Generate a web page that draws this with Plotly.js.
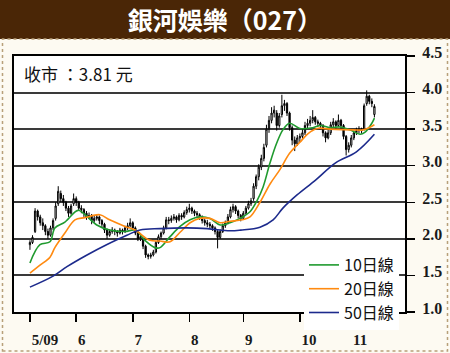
<!DOCTYPE html>
<html>
<head>
<meta charset="utf-8">
<script src="https://cdn.plot.ly/plotly-3.0.1.min.js"></script>
<style>html,body{margin:0;padding:0;background:#fdfaf2;}#chart{width:450px;height:353px;}</style>
</head>
<body>
<div id="chart"></div>
<script>
// trading-day index for each candle (May 4 2009 .. Nov 2009)
var dayIndex = [];
for (var i = 0; i < 135; i++) dayIndex.push(i);

var openP = [1.92,1.95,2.10,2.38,2.30,2.22,2.18,2.10,2.05,2.15,2.28,2.48,2.62,2.55,2.50,2.42,2.35,2.48,2.55,2.50,
2.42,2.40,2.35,2.30,2.32,2.25,2.28,2.30,2.25,2.20,2.12,2.05,2.10,2.12,2.10,2.08,2.12,2.10,2.15,2.18,
2.22,2.15,2.08,2.00,2.00,1.90,1.78,1.76,1.78,1.82,1.95,2.03,2.08,2.15,2.26,2.25,2.28,2.30,2.26,2.32,
2.30,2.36,2.40,2.42,2.38,2.35,2.33,2.30,2.25,2.22,2.20,2.18,2.15,2.10,2.02,2.10,2.18,2.22,2.30,2.40,
2.44,2.38,2.32,2.28,2.35,2.42,2.48,2.55,2.72,2.85,2.98,3.10,3.28,3.50,3.62,3.72,3.72,3.55,3.70,3.82,
3.85,3.72,3.52,3.35,3.30,3.38,3.40,3.45,3.55,3.58,3.62,3.66,3.60,3.58,3.55,3.45,3.38,3.45,3.56,3.60,
3.55,3.62,3.55,3.40,3.22,3.28,3.38,3.45,3.48,3.50,3.50,3.85,3.95,3.88,3.70];
var highP = [1.98,2.05,2.42,2.40,2.33,2.28,2.20,2.14,2.18,2.28,2.50,2.72,2.66,2.60,2.52,2.45,2.48,2.62,2.58,2.52,
2.46,2.42,2.38,2.36,2.34,2.32,2.34,2.32,2.27,2.22,2.14,2.13,2.16,2.14,2.12,2.15,2.14,2.18,2.22,2.28,
2.24,2.17,2.10,2.06,2.02,1.92,1.80,1.81,1.85,1.97,2.06,2.10,2.18,2.30,2.30,2.32,2.34,2.32,2.35,2.35,
2.39,2.44,2.48,2.44,2.40,2.38,2.35,2.32,2.28,2.26,2.23,2.20,2.17,2.12,2.13,2.21,2.25,2.34,2.44,2.48,
2.46,2.40,2.34,2.38,2.45,2.52,2.56,2.76,2.88,3.02,3.15,3.30,3.56,3.68,3.80,3.82,3.76,3.72,3.97,3.90,
3.87,3.74,3.55,3.40,3.42,3.44,3.50,3.60,3.64,3.68,3.76,3.68,3.63,3.60,3.57,3.47,3.50,3.60,3.65,3.62,
3.70,3.64,3.57,3.42,3.32,3.42,3.48,3.52,3.54,3.52,3.85,4.03,3.97,3.92,3.84];
var lowP = [1.85,1.93,2.08,2.25,2.18,2.12,2.05,2.00,2.03,2.12,2.25,2.45,2.50,2.45,2.38,2.30,2.33,2.45,2.45,2.38,
2.35,2.30,2.26,2.27,2.20,2.22,2.25,2.20,2.15,2.08,2.00,2.03,2.07,2.05,2.03,2.06,2.06,2.08,2.12,2.16,
2.12,2.05,1.97,1.97,1.86,1.74,1.72,1.73,1.76,1.80,1.93,2.00,2.06,2.13,2.20,2.22,2.25,2.22,2.24,2.26,
2.28,2.33,2.36,2.34,2.31,2.30,2.26,2.21,2.18,2.16,2.14,2.11,2.06,1.87,2.00,2.08,2.15,2.20,2.28,2.36,
2.34,2.28,2.24,2.26,2.33,2.40,2.45,2.52,2.68,2.80,2.94,3.06,3.25,3.45,3.58,3.66,3.48,3.52,3.66,3.75,
3.68,3.48,3.28,3.20,3.27,3.32,3.37,3.42,3.50,3.54,3.58,3.56,3.53,3.50,3.40,3.32,3.36,3.42,3.52,3.50,
3.53,3.50,3.36,3.14,3.18,3.25,3.35,3.42,3.44,3.44,3.48,3.82,3.84,3.80,3.66];
var closeP = [1.95,2.02,2.38,2.30,2.22,2.18,2.10,2.05,2.15,2.25,2.45,2.65,2.55,2.50,2.42,2.35,2.45,2.55,2.50,2.42,
2.40,2.35,2.30,2.32,2.25,2.28,2.30,2.25,2.20,2.12,2.05,2.10,2.12,2.10,2.08,2.12,2.10,2.15,2.18,2.22,
2.15,2.08,2.00,2.03,1.90,1.78,1.76,1.78,1.82,1.95,2.03,2.08,2.15,2.26,2.25,2.28,2.30,2.26,2.32,2.30,
2.36,2.40,2.42,2.38,2.35,2.33,2.30,2.25,2.22,2.20,2.18,2.15,2.10,2.02,2.10,2.18,2.22,2.30,2.40,2.44,
2.38,2.32,2.28,2.35,2.42,2.48,2.52,2.72,2.85,2.98,3.10,3.25,3.50,3.62,3.72,3.76,3.55,3.68,3.82,3.85,
3.72,3.52,3.35,3.30,3.38,3.40,3.45,3.55,3.58,3.62,3.66,3.60,3.58,3.55,3.45,3.38,3.45,3.56,3.60,3.55,
3.62,3.55,3.40,3.22,3.28,3.38,3.45,3.48,3.50,3.48,3.82,3.95,3.88,3.85,3.81];

// moving-average lines at sample days
var ma10Day = [0,3.9,7.8,9.7,13.6,18.7,21.4,26,31,37,41,44.7,48.6,50.6,54.5,58.4,62.3,66,70,74,77.8,81.7,85.6,88.3,90.7,93.4,96,98.4,101,105,110,113,116.7,120.6,124.5,128.4,130.4,133,134];
var ma10Val = [1.67,1.92,1.96,2.15,2.23,2.39,2.33,2.19,2.12,2.10,2.12,1.98,1.88,1.88,2.03,2.17,2.26,2.30,2.28,2.19,2.22,2.28,2.37,2.52,2.71,3.04,3.31,3.49,3.58,3.51,3.52,3.55,3.52,3.53,3.49,3.43,3.46,3.58,3.65];
var ma20Day = [0,3.9,7.8,9.7,13.6,17.5,21.4,27.2,31,37,40.9,46.7,50.6,54.5,58.4,62.3,66,70,74,77.8,82.5,85.6,89.5,93.4,97.3,101,105,108.2,111.7,116.7,125.7,129.6,134];
var ma20Val = [1.53,1.64,1.75,1.88,2.08,2.26,2.29,2.33,2.26,2.17,2.12,1.98,1.97,1.96,2.09,2.22,2.28,2.28,2.22,2.24,2.26,2.30,2.50,2.75,2.95,3.17,3.32,3.44,3.51,3.50,3.49,3.49,3.56];
var ma50Day = [0,9,14.4,22.2,29.8,37.7,42.8,50.6,61,69,77.8,82,89.5,94.6,98.4,103.9,111,118.9,127,134];
var ma50Val = [1.34,1.49,1.62,1.78,1.92,2.05,2.12,2.14,2.15,2.14,2.11,2.12,2.16,2.26,2.42,2.60,2.80,3.04,3.19,3.43];

var monthTickDays = [0,18,40,62,83,105,125];
var monthTickText = ['5/09','6','7','8','9','10','11'];
var priceTicks = [1.0,1.5,2.0,2.5,3.0,3.5,4.0,4.5];

var traces = [
  {type:'candlestick', x:dayIndex, open:openP, high:highP, low:lowP, close:closeP,
   increasing:{line:{color:'#000',width:1}, fillcolor:'#ffffff'},
   decreasing:{line:{color:'#000',width:1}, fillcolor:'#000000'},
   whiskerwidth:0, showlegend:false, hoverinfo:'skip'},
  {type:'scatter', mode:'lines', name:'10日線', x:ma10Day, y:ma10Val, line:{color:'#1f9a2e', width:1.6, shape:'spline'}},
  {type:'scatter', mode:'lines', name:'20日線', x:ma20Day, y:ma20Val, line:{color:'#ff8a10', width:1.6, shape:'spline'}},
  {type:'scatter', mode:'lines', name:'50日線', x:ma50Day, y:ma50Val, line:{color:'#1c2a8c', width:1.6, shape:'spline'}}
];

var W = 391, H = 256, L = 14, T = 56;
function px2x(p){ return (p - L) / W; }
function px2y(p){ return (T + H - p) / H; }

var layout = {
  width:450, height:353,
  margin:{l:L, r:450-L-W, t:T, b:353-T-H},
  paper_bgcolor:'#fdfaf2', plot_bgcolor:'#ffffff',
  showlegend:true,
  title:{text:'銀河娛樂（027）', x:0.5, xref:'container', xanchor:'center',
         y:1-21/353, yref:'container', yanchor:'middle',
         font:{family:'Noto Sans CJK TC', size:25, color:'#ffffff', weight:'bold'}},
  xaxis:{range:[-6.2,145.9], tickmode:'array', tickvals:monthTickDays, ticktext:monthTickText,
         ticks:'outside', ticklen:8, tickwidth:1.5, tickcolor:'#000',
         ticklabelposition:'outside right',
         showline:true, linecolor:'#000', linewidth:2, mirror:true,
         showgrid:false, zeroline:false, rangeslider:{visible:false},
         tickfont:{family:'Liberation Serif', size:15, color:'#1a1a1a', weight:'bold'}, ticklabelstandoff:13, fixedrange:true},
  yaxis:{range:[1,4.5], side:'right', tickmode:'array', tickvals:priceTicks,
         ticktext:priceTicks.map(function(v){return v.toFixed(1);}),
         ticks:'outside', ticklen:8, tickwidth:1.5, tickcolor:'#000',
         showline:true, linecolor:'#000', linewidth:2, mirror:true,
         showgrid:true, gridcolor:'#3a3a3a', gridwidth:2, zeroline:false,
         tickfont:{family:'Liberation Serif', size:16, color:'#1a1a1a', weight:'bold'},
         ticklabelstandoff:4, ticklabelshift:-4, fixedrange:true},
  legend:{x:px2x(399), xanchor:'right', y:px2y(248), yanchor:'top', bgcolor:'#ffffff',
          font:{family:'Noto Sans CJK TC', size:16, color:'#111'}, tracegroupgap:0, itemwidth:30,
          traceorder:'normal'},
  annotations:[{text:'收市 ：3.81 元', xref:'paper', yref:'paper', x:px2x(22), y:px2y(73),
                xanchor:'left', yanchor:'middle', showarrow:false,
                font:{family:'Noto Sans CJK TC', size:17, color:'#111'}}],
  shapes:[
    {type:'rect', xref:'paper', yref:'paper', x0:px2x(0), x1:px2x(450), y0:px2y(39), y1:px2y(0),
     fillcolor:'#4a2606', line:{width:0}, layer:'below'},
    {type:'rect', xref:'paper', yref:'paper', x0:px2x(2.5), x1:px2x(447.5), y0:px2y(351), y1:px2y(39),
     fillcolor:'rgba(0,0,0,0)', line:{color:'#b8a07a', width:1.5, dash:'dot'}, layer:'below'}
  ]
};

Plotly.newPlot('chart', traces, layout, {staticPlot:true});
</script>
</body>
</html>
